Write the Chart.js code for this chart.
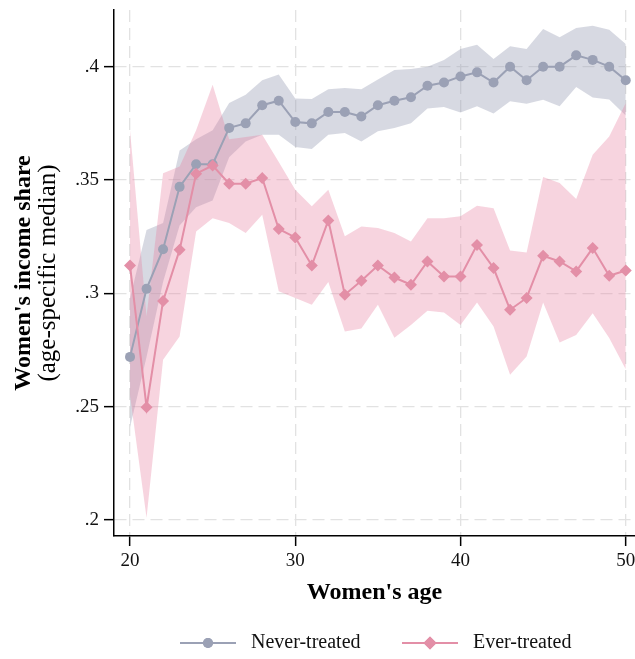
<!DOCTYPE html>
<html>
<head>
<meta charset="utf-8">
<title>Women's income share by age</title>
<script src="https://cdn.jsdelivr.net/npm/chart.js@4"></script>
<style>
  html, body { margin: 0; padding: 0; background: #fff; }
  canvas { display: block; }
</style>
</head>
<body>
<canvas id="chart" width="635" height="659"></canvas>
<script>
// Data
const ages = [20, 21, 22, 23, 24, 25, 26, 27, 28, 29, 30, 31, 32, 33, 34, 35,
              36, 37, 38, 39, 40, 41, 42, 43, 44, 45, 46, 47, 48, 49, 50];

const neverMean  = [.272, .302, .3195, .347, .357, .357, .373, .375, .383, .385, .3756, .375, .380, .380, .378, .383,
                    .385, .3865, .3916, .393, .3957, .3975, .393, .400, .394, .400, .400, .405, .403, .400, .394];
const neverUpper = [.298, .328, .331, .363, .368, .372, .384, .3876, .394, .3965, .386, .3857, .390, .3906, .390, .3943,
                    .3985, .399, .400, .403, .4078, .4097, .4034, .409, .4078, .4166, .413, .4171, .4181, .4163, .410];
const neverLower = [.241, .272, .305, .330, .338, .341, .360, .367, .370, .370, .3646, .3637, .370, .3707, .367, .3715,
                    .373, .375, .3816, .3822, .3798, .3825, .3793, .3847, .3837, .3854, .3825, .391, .3864, .3855, .3785];

const everMean  = [.3123, .2498, .2967, .3192, .3528, .3564, .3484, .3484, .3509, .3284, .3247, .3123, .3322, .2994, .3056, .3123,
                   .307, .3038, .3141, .3075, .3075, .3214, .3112, .2928, .298, .3166, .3141, .3097, .320, .3078, .3101];
const everUpper = [.372, .290, .353, .356, .372, .392, .368, .369, .370, .358, .3457, .3384, .3457, .3252, .3295, .3288,
                   .3266, .3229, .3332, .3332, .334, .3387, .3376, .3189, .318, .3513, .3487, .3416, .3612, .3692, .384];
const everLower = [.255, .201, .2707, .281, .3273, .3332, .331, .3266, .3347, .301, .298, .295, .305, .2832, .2845, .295,
                   .2804, .2861, .2923, .2916, .2861, .296, .2854, .2641, .2722, .296, .2783, .2817, .2913, .2803, .2666];

const xTicks = [20, 30, 40, 50];
const yTicks = [0.2, 0.25, 0.3, 0.35, 0.4];
const yTickLabels = ['.2', '.25', '.3', '.35', '.4'];

const seriesNames = ['Never-treated', 'Ever-treated'];
const xTitle = "Women's age";
const yTitle = ["Women's income share", '(age-specific median)'];

const grayCol = '#9ba1b5';
const pinkCol = '#e38fa7';
const serif = '"Liberation Serif", "Times New Roman", serif';

const pts = (ys) => ages.map((a, i) => ({ x: a, y: ys[i] }));

function band(ys, fill, color) {
    return {
        data: pts(ys),
        borderWidth: 0,
        pointRadius: 0,
        pointHoverRadius: 0,
        backgroundColor: color,
        fill: fill
    };
}

// y title (two fonts) and the line+marker legend
const extraText = {
    id: 'extraText',
    afterDraw(chart) {
        const ctx = chart.ctx;
        const area = chart.chartArea;
        ctx.save();
        ctx.fillStyle = '#000';
        ctx.textAlign = 'center';
        ctx.textBaseline = 'middle';
        ctx.translate(24, (area.top + area.bottom) / 2);
        ctx.rotate(-Math.PI / 2);
        ctx.font = 'bold 24px ' + serif;
        ctx.fillText(yTitle[0], 0, 0);
        ctx.font = '25px ' + serif;
        ctx.fillText(yTitle[1], 0, 24);
        ctx.restore();

        const ly = 643;
        const items = [
            { x: 180, color: grayCol, style: 'circle', r: 5, text: seriesNames[0] },
            { x: 402, color: pinkCol, style: 'rectRot', r: 6.5, text: seriesNames[1] }
        ];
        ctx.save();
        items.forEach(it => {
            ctx.strokeStyle = it.color;
            ctx.lineWidth = 2;
            ctx.beginPath();
            ctx.moveTo(it.x, ly);
            ctx.lineTo(it.x + 56, ly);
            ctx.stroke();
            ctx.fillStyle = it.color;
            Chart.helpers.drawPoint(ctx, { pointStyle: it.style, radius: it.r, borderWidth: 0, rotation: 0 }, it.x + 28, ly);
            ctx.fill();
            ctx.fillStyle = '#111';
            ctx.font = '20px ' + serif;
            ctx.textAlign = 'left';
            ctx.textBaseline = 'middle';
            ctx.fillText(it.text, it.x + 71, ly);
        });
        ctx.restore();
    }
};

new Chart(document.getElementById('chart'), {
    type: 'line',
    data: {
        datasets: [
            {
                label: seriesNames[1],
                data: pts(everMean),
                borderColor: pinkCol,
                backgroundColor: pinkCol,
                borderWidth: 2,
                pointStyle: 'rectRot',
                pointRadius: 6,
                pointBorderWidth: 0,
                fill: false
            },
            {
                label: seriesNames[0],
                data: pts(neverMean),
                borderColor: grayCol,
                backgroundColor: grayCol,
                borderWidth: 2,
                pointStyle: 'circle',
                pointRadius: 5,
                pointBorderWidth: 0,
                fill: false
            },
            band(everUpper, '+1', 'rgba(232, 130, 160, 0.34)'),
            band(everLower, false, 'rgba(232, 130, 160, 0.34)'),
            band(neverUpper, '+1', 'rgba(150, 156, 178, 0.38)'),
            band(neverLower, false, 'rgba(150, 156, 178, 0.38)')
        ]
    },
    options: {
        responsive: false,
        animation: false,
        layout: { autoPadding: false, padding: { top: 10, right: 0, bottom: 51, left: 0 } },
        elements: { line: { tension: 0 } },
        plugins: {
            legend: { display: false },
            tooltip: { enabled: false }
        },
        scales: {
            x: {
                type: 'linear',
                min: 19.03,
                max: 50.56,
                afterBuildTicks: (s) => { s.ticks = xTicks.map(v => ({ value: v })); },
                afterFit: (s) => { s.height = 72; s.paddingLeft = 0; s.paddingRight = 0; },
                ticks: {
                    color: '#111',
                    padding: 4,
                    maxRotation: 0,
                    font: { family: serif, size: 19 }
                },
                grid: {
                    color: '#e2e2e2',
                    lineWidth: 1.3,
                    tickColor: '#000',
                    tickLength: 10,
                    tickWidth: 1.5
                },
                border: { color: '#000', width: 1.5, dash: [12, 6] },
                title: {
                    display: true,
                    text: xTitle,
                    color: '#000',
                    padding: { top: 0, bottom: 1 },
                    font: { family: serif, size: 24, weight: 'bold' }
                }
            },
            y: {
                min: 0.193,
                max: 0.425,
                afterBuildTicks: (s) => { s.ticks = yTicks.map(v => ({ value: v })); },
                afterFit: (s) => { s.width = 114; s.paddingTop = 0; s.paddingBottom = 0; },
                ticks: {
                    color: '#111',
                    padding: 5,
                    font: { family: serif, size: 19 },
                    callback: (v, i) => yTickLabels[i]
                },
                grid: {
                    color: '#e2e2e2',
                    lineWidth: 1.3,
                    tickColor: '#000',
                    tickLength: 10,
                    tickWidth: 1.5
                },
                border: { color: '#000', width: 1.5, dash: [12, 6] }
            }
        }
    },
    plugins: [extraText]
});
</script>
</body>
</html>
